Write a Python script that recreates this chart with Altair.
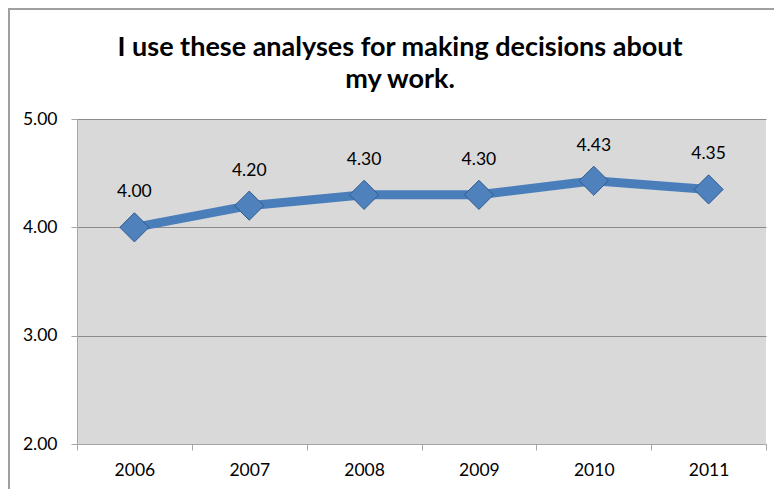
import altair as alt
import pandas as pd

years = ["2006", "2007", "2008", "2009", "2010", "2011"]
values = [4.00, 4.20, 4.30, 4.30, 4.43, 4.35]
labels = ["4.00", "4.20", "4.30", "4.30", "4.43", "4.35"]
y_ticks = [2, 3, 4, 5]
title_lines = ["I use these analyses for making decisions about", "my work."]

df = pd.DataFrame({"year": years, "value": values, "label": labels})
tdf = pd.DataFrame({"t": ["\n".join(title_lines)]})

FONT = "Lato"
W, H = 689, 325

x = alt.X("year:N", sort=years,
          scale=alt.Scale(paddingInner=0, paddingOuter=0),
          axis=alt.Axis(title=None, labelAngle=0, tickBand="extent", labelFontSize=17.5,
                        labelFont=FONT, labelColor="#000000", labelPadding=11,
                        domainColor="#a6a6a6", tickColor="#a6a6a6", tickSize=6, grid=False))
y = alt.Y("value:Q", scale=alt.Scale(domain=[2, 5], nice=False, zero=False),
          axis=alt.Axis(title=None, values=y_ticks, format=".2f", labelFontSize=17.5,
                        labelFont=FONT, labelColor="#000000", labelPadding=14,
                        domainColor="#a6a6a6", tickColor="#a6a6a6", tickSize=6,
                        grid=True, gridColor="#8c8c8c", gridWidth=1))

base = alt.Chart(df)

line = base.mark_line(color="#4a7ebb", strokeWidth=9).encode(x=x, y=y)
pts = base.mark_point(shape="diamond", size=850, filled=True, color="#4f81bd",
                      stroke="#2f5b8f", strokeWidth=1, opacity=1).encode(x=x, y=y)
txt = base.mark_text(dy=-35, fontSize=17.5, font=FONT, color="#000000").encode(
    x=x, y=y, text="label:N")

frame_top = alt.Chart(tdf).mark_rule(color="#a0a0a0", strokeWidth=2).encode(
    x=alt.value(-69), x2=alt.value(W + 30), y=alt.value(-110))
frame_left = alt.Chart(tdf).mark_rule(color="#a0a0a0", strokeWidth=2).encode(
    x=alt.value(-68), y=alt.value(-111), y2=alt.value(H + 60))

title = alt.Chart(tdf).mark_text(
    font=FONT, fontSize=27, fontWeight="bold", color="#000000", align="center",
    baseline="middle", lineBreak="\n", lineHeight=32,
).encode(x=alt.value(323), y=alt.value(-71), text="t:N")

chart = alt.layer(frame_top, frame_left, title, line, pts, txt).properties(
    width=W, height=H,
    autosize=alt.AutoSizeParams(type="none"),
    padding={"left": 69, "top": 111, "right": 8, "bottom": 45},
    background="#ffffff",
).configure_view(fill="#d9d9d9", stroke=None)

chart.save("out.html", embed_options={"renderer": "svg", "actions": False})
